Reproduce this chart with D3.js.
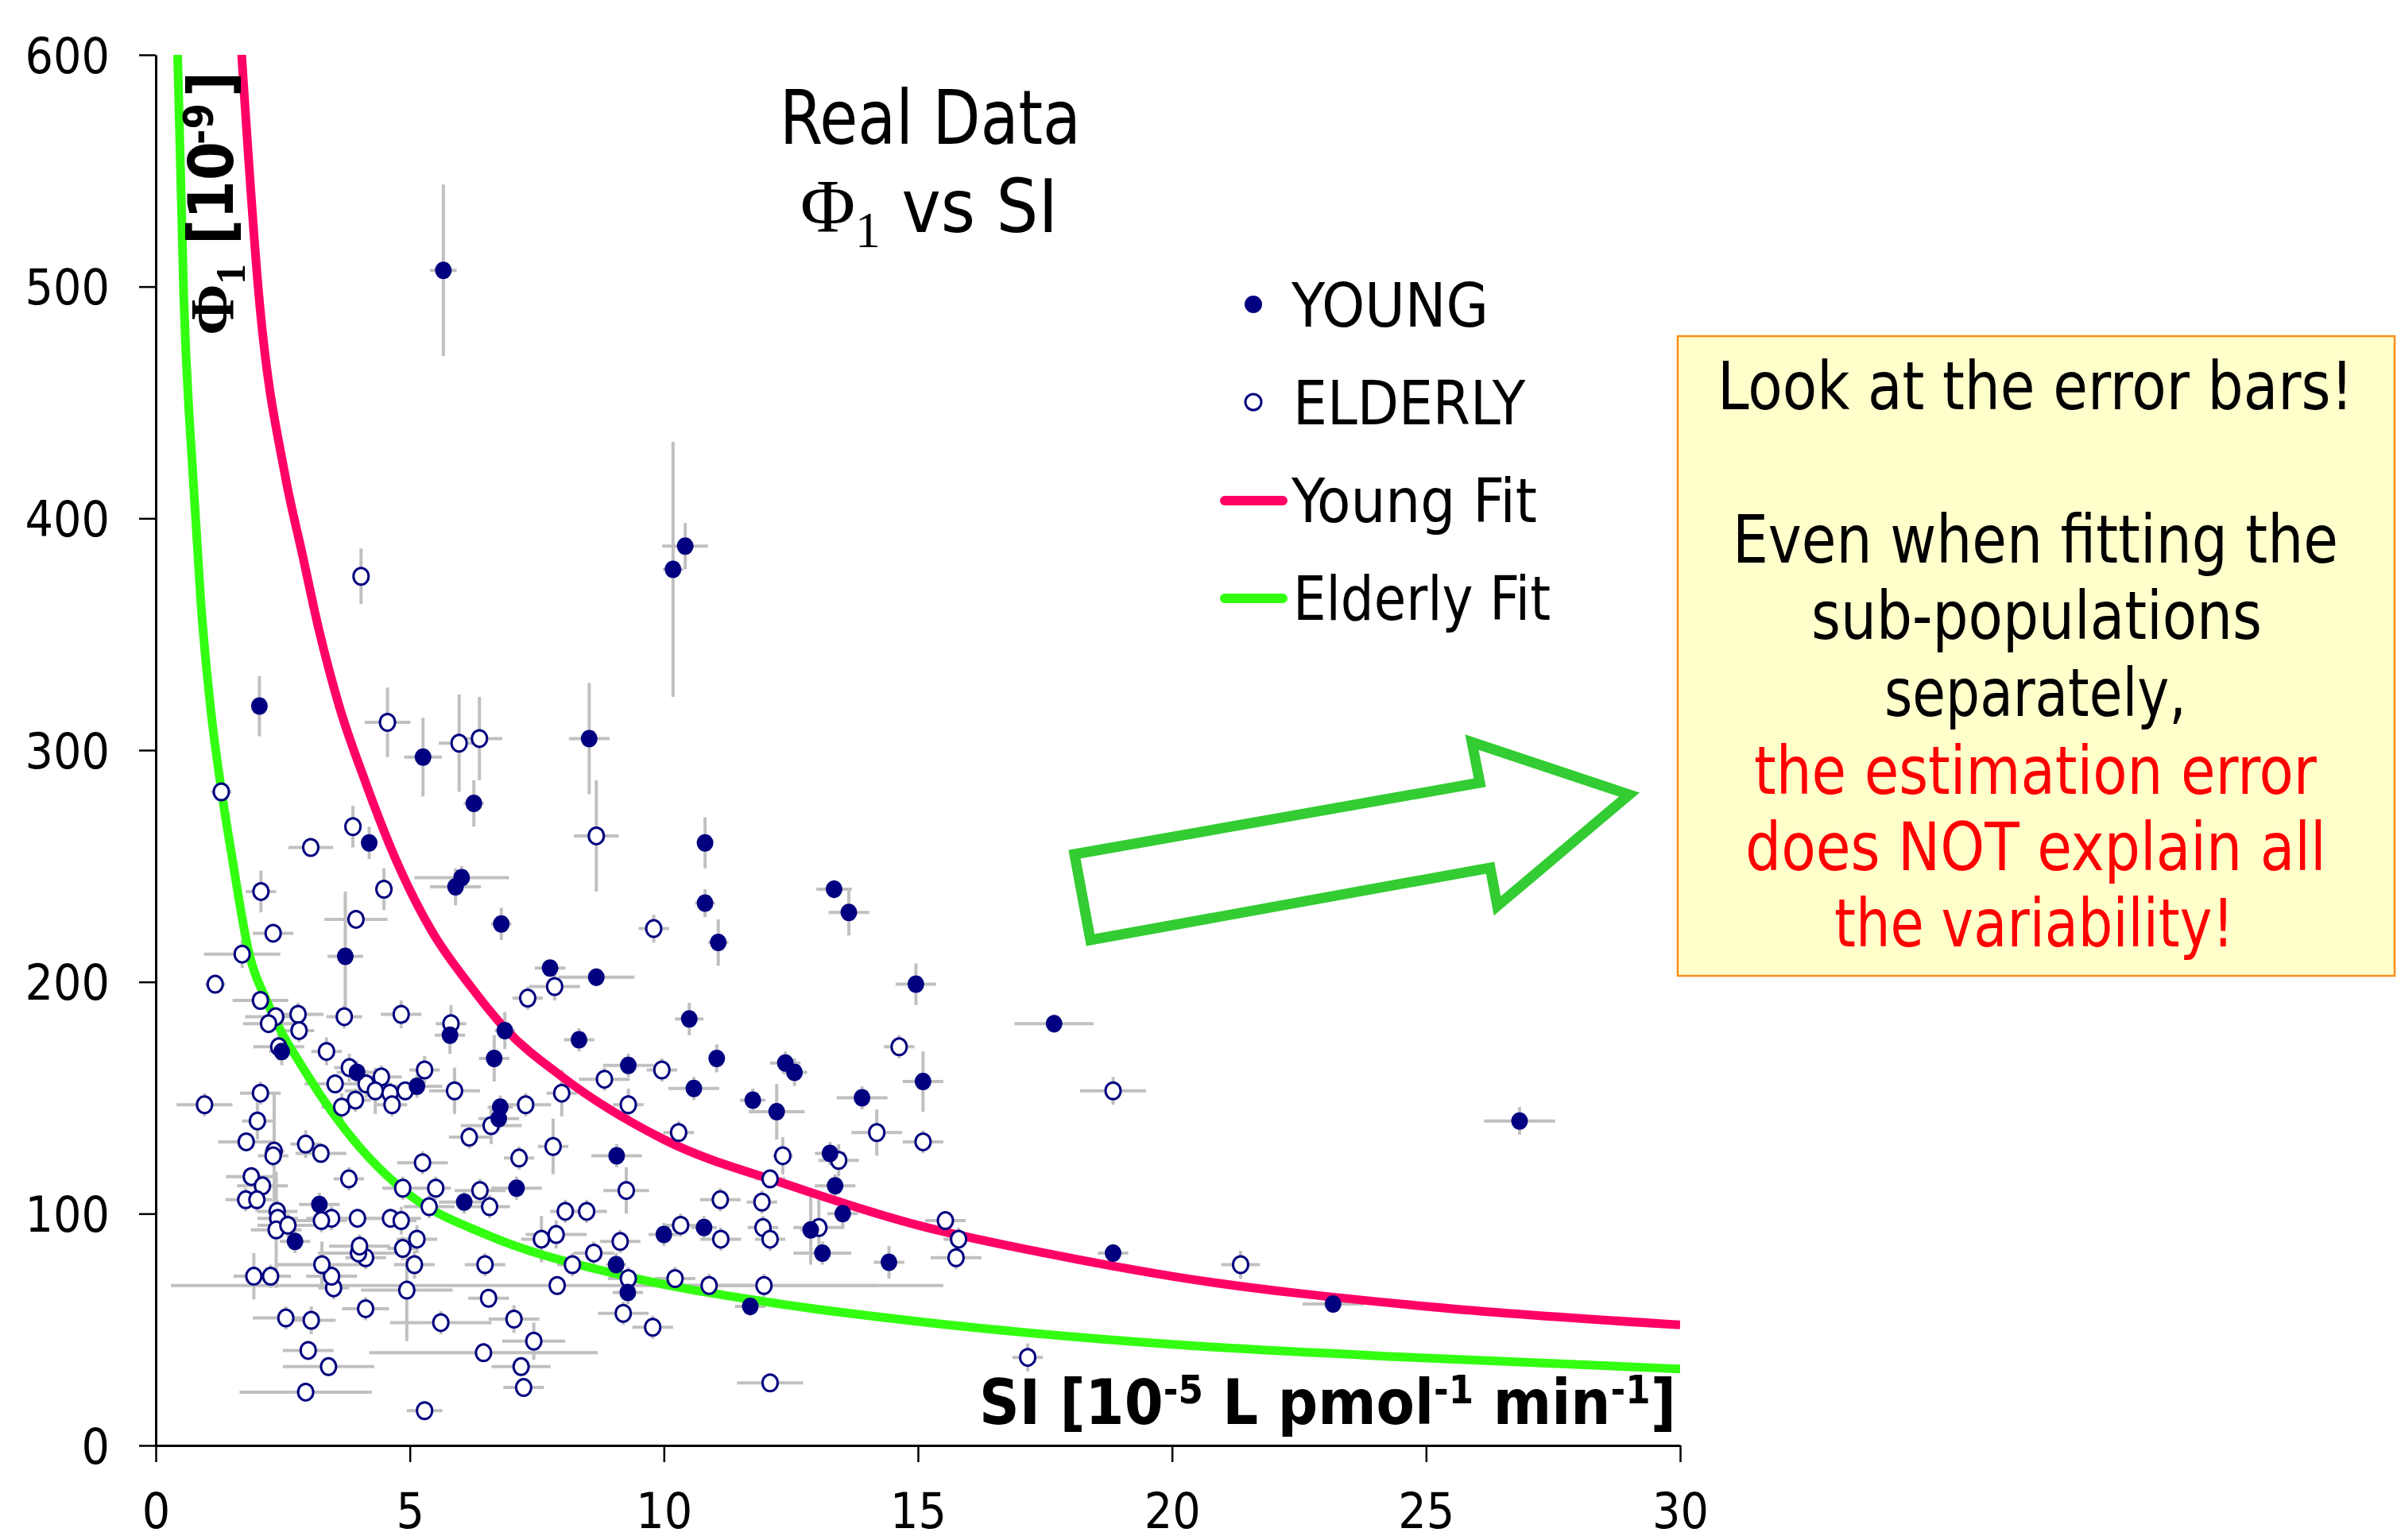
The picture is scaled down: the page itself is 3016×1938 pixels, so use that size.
<!DOCTYPE html>
<html><head><meta charset="utf-8">
<script src="https://cdn.jsdelivr.net/npm/d3@7"></script>
<style>body{margin:0;background:#fff}svg{display:block}</style>
</head><body>
<svg id="c" width="3016" height="1938"></svg>
<script>
const xTicks=[0,5,10,15,20,25,30];
const yTicks=[0,100,200,300,400,500,600];
// [SI, Phi1, SI error (half), Phi1 error (half)]
const young=[
[5.66,507,0.26,37],[10.18,378,0.2,55],[10.42,388,0.45,10],[2.04,319,0.1,13],[5.26,297,0.37,17],
[8.53,305,0.4,24],[6.26,277,0.2,10],[4.2,260,0.15,7],[6.02,245,0.93,5],[5.9,241,0.5,8],
[6.8,225,0.2,7],[10.81,260,0.15,11],[10.81,234,0.2,6],[11.07,217,0.2,10],[13.35,240,0.35,4],
[13.64,230,0.4,10],[3.73,211,0.35,28],[7.76,206,0.3,3],[8.67,202,0.75,4],[14.96,199,0.4,9],
[10.5,184,0.28,7],[17.68,182,0.78,4],[8.33,175,0.3,5],[2.48,170,0.25,6],[6.66,167,0.3,10],
[11.04,167,0.15,6],[9.3,164,0.5,5],[12.39,165,0.3,5],[12.57,161,0.25,6],[15.1,157,0.4,13],
[10.59,154,0.5,5],[5.14,155,0.5,5],[3.96,161,0.4,5],[5.79,177,0.3,8],[13.9,150,0.5,5],
[11.75,149,0.25,5],[6.78,146,0.25,5],[6.75,141,0.4,5],[12.22,144,0.55,12],[26.84,140,0.7,6],
[6.87,179,0.2,8],[9.07,125,0.5,5],[13.27,126,0.3,5],[13.37,112,0.4,5],[7.1,111,0.5,5],
[13.52,100,0.3,6],[12.89,93,0.2,15],[10.79,94,0.25,5],[10.0,91,0.3,5],[3.22,104,0.4,5],
[6.07,105,0.5,5],[2.74,88,0.3,5],[14.43,79,0.3,7],[13.12,83,0.57,5],[18.84,83,0.3,4],
[9.06,78,0.2,5],[9.29,66,0.3,5],[11.7,60,0.3,4],[23.17,61,0.6,3]
];
const elderly=[
[4.04,375,0.15,12],[4.56,312,0.45,15],[5.97,303,0.4,21],[6.37,305,0.45,18],[8.67,263,0.44,24],
[1.29,282,0.2,5],[3.88,267,0.1,9],[3.05,258,0.44,4],[4.49,240,0.1,9],[2.07,239,0.3,9],
[3.94,227,0.62,4],[2.31,221,0.4,3],[1.7,212,0.75,6],[1.17,199,0.2,4],[2.06,192,0.55,3],
[7.85,198,0.5,6],[7.32,193,0.3,5],[5.81,182,0.3,8],[4.83,186,0.4,6],[3.71,185,0.35,5],
[2.8,186,0.5,5],[2.36,185,0.6,4],[2.22,182,0.5,4],[2.82,179,0.3,5],[9.8,223,0.3,6],
[2.42,172,0.5,6],[3.36,170,0.3,6],[3.81,163,0.3,6],[3.53,156,0.6,4],[3.93,149,0.3,5],
[3.66,146,0.4,6],[4.14,156,0.5,6],[4.44,159,0.4,5],[4.32,153,0.6,10],[4.61,152,0.5,4],
[4.65,147,0.3,5],[4.91,153,0.3,4],[5.29,162,0.3,6],[5.88,153,0.5,10],[6.6,138,0.6,8],
[7.28,147,0.5,5],[7.99,152,0.3,10],[8.83,158,0.5,5],[9.3,147,0.3,7],[0.96,147,0.55,5],
[2.06,152,0.4,5],[2.0,140,0.3,8],[1.78,131,0.55,4],[2.33,127,0.2,25],[2.31,125,0.3,5],
[2.95,130,0.3,6],[3.25,126,0.5,4],[6.17,133,0.4,5],[7.82,129,0.3,12],[1.88,116,0.5,4],
[2.1,112,0.5,4],[3.8,115,0.3,5],[4.86,111,0.4,5],[5.38,103,0.5,5],[5.51,111,0.3,5],
[6.57,103,0.4,5],[6.38,110,0.5,5],[5.25,122,0.5,5],[7.15,124,0.3,5],[8.06,101,0.3,5],
[8.48,101,0.4,5],[9.26,110,0.45,10],[1.77,106,0.4,5],[1.99,106,0.3,5],[2.39,101,0.4,5],
[2.4,98,0.4,5],[2.37,93,0.5,25],[2.6,95,0.6,5],[3.46,98,0.5,5],[3.26,97,0.5,5],
[3.97,98,0.5,4],[4.62,98,0.6,4],[4.83,97,0.3,6],[3.5,68,0.3,5],[3.46,73,0.5,5],
[3.27,78,0.9,10],[4.13,81,0.4,5],[3.99,83,0.8,5],[4.01,86,0.6,5],[4.86,85,0.3,5],
[5.14,89,0.4,6],[5.09,78,0.4,6],[6.48,78,0.4,5],[7.9,69,7.6,4],[7.59,89,0.4,10],
[7.88,91,0.6,6],[8.2,78,0.3,5],[8.62,83,0.4,5],[9.14,88,0.4,5],[9.2,57,0.5,5],
[9.3,72,0.4,5],[1.93,73,0.4,10],[2.26,73,0.4,5],[4.13,59,0.46,5],[4.94,67,0.9,22],
[3.06,54,0.48,6],[2.56,55,0.65,5],[5.61,53,1.0,5],[7.05,54.5,0.5,6],[6.55,63.5,0.4,4],
[3.0,41,0.5,4],[3.4,34,0.9,4],[2.95,23,1.3,3],[6.45,40,2.25,4],[7.44,45,0.62,8],
[7.19,34,0.58,4],[7.24,25,0.4,3],[5.29,15,0.35,2],[9.96,162,0.3,5],[14.63,172,0.3,5],
[18.84,153,0.65,6],[10.29,135,0.3,5],[14.19,135,0.5,10],[15.1,131,0.4,5],[12.34,125,0.2,8],
[13.44,123,0.4,7],[12.09,115,0.3,4],[11.11,106,0.4,5],[11.93,105,0.3,5],[10.33,95,0.3,5],
[11.12,89,0.4,5],[11.95,94,0.3,5],[12.09,89,0.3,5],[13.05,94,0.5,12],[15.54,97,0.4,4],
[15.8,89,0.3,5],[15.75,81,0.5,5],[10.22,72,0.4,5],[10.89,69,0.9,5],[11.97,69,2.2,5],
[9.78,51,0.4,5],[17.16,38,0.3,6],[12.09,27,0.65,2],[21.35,78,0.38,6]
];
// fitted curves: [SI, Phi1]
const youngFit=[[1.69,600],[2.03,496],[2.55,418],[2.88,385],[3.21,352],[3.61,319],[4.13,286],[4.7,254],
[5.43,222],[6.2,198],[6.87,180],[8.0,159],[10,132],[12.5,112],[15,95],[17.5,83],[20,73],[25,60],[30,52]];
const elderlyFit=[[0.43,600],[0.55,496],[0.73,419],[0.89,363],[1.08,318],[1.29,283],[1.5,254],[1.83,213],
[2.2,191],[2.98,160],[4,129],[5,108],[6.5,91],[9.06,74],[12,62],[15,53.5],[20,43.6],[25,37.7],[30,33]];
const legendLabels=["YOUNG","ELDERLY","Young Fit","Elderly Fit"];
const noteBlack=["Look at the error bars!","","Even when fitting the","sub-populations","separately,"];
const noteRed=["the estimation error","does NOT explain all","the variability!"];

const F="'DejaVu Sans Condensed','DejaVu Sans',sans-serif";
const SERIF="'Liberation Serif','DejaVu Serif',serif";
const NAVY="#000080", PINK="#FF0066", LIME="#33FF11", GRAY="#C0C0C0";
const svg=d3.select("#c");
svg.append("rect").attr("width",3016).attr("height",1938).attr("fill","#fff");

const x=d3.scaleLinear().domain([0,30]).range([196,2114]);
const y=d3.scaleLinear().domain([0,600]).range([1819,69]);

function fit(t,left,right){
  const b=t.node().getBBox();
  const s=(right-left)/b.width;
  t.attr("transform",`translate(${left},0) scale(${s},1) translate(${-b.x},0)`);
}

svg.append("clipPath").attr("id","plot").append("rect").attr("x",196).attr("y",69).attr("width",1918).attr("height",1750);

// error bars
const eb=svg.append("g").attr("stroke",GRAY).attr("stroke-width",4);
[...elderly,...young].forEach(d=>{
  eb.append("line").attr("x1",x(d[0]-d[2])).attr("x2",x(d[0]+d[2])).attr("y1",y(d[1])).attr("y2",y(d[1]));
  eb.append("line").attr("x1",x(d[0])).attr("x2",x(d[0])).attr("y1",y(d[1]-d[3])).attr("y2",y(d[1]+d[3]));
});

// fit curves
const line=d3.line().x(d=>x(d[0])).y(d=>y(d[1])).curve(d3.curveMonotoneX);
const cg=svg.append("g").attr("clip-path","url(#plot)").attr("fill","none").attr("stroke-width",11);
cg.append("path").datum(elderlyFit).attr("d",line).attr("stroke",LIME);
cg.append("path").datum(youngFit).attr("d",line).attr("stroke",PINK);

// markers
svg.append("g").selectAll("ellipse").data(elderly).join("ellipse")
  .attr("cx",d=>x(d[0])).attr("cy",d=>y(d[1])).attr("rx",9.5).attr("ry",10.5)
  .attr("fill","#fff").attr("stroke",NAVY).attr("stroke-width",3);
svg.append("g").selectAll("ellipse").data(young).join("ellipse")
  .attr("cx",d=>x(d[0])).attr("cy",d=>y(d[1])).attr("rx",10.5).attr("ry",11).attr("fill",NAVY);

// axes
const ya=svg.append("g").attr("transform","translate(196,0)")
  .call(d3.axisLeft(y).tickValues(yTicks).tickSize(21).tickSizeOuter(0).tickFormat(d3.format("d")));
ya.select(".domain").attr("stroke","#000").attr("stroke-width",3);
ya.selectAll(".tick line").attr("stroke","#000").attr("stroke-width",2.5);
ya.selectAll(".tick text").attr("x",-58).attr("dy","0.36em").attr("font-family",F).attr("font-size",62).attr("fill","#000");
const xa=svg.append("g").attr("transform","translate(0,1819)")
  .call(d3.axisBottom(x).tickValues(xTicks).tickSize(21).tickSizeOuter(0).tickFormat(d3.format("d")));
xa.select(".domain").attr("stroke","#000").attr("stroke-width",3);
xa.selectAll(".tick line").attr("stroke","#000").attr("stroke-width",2.5);
xa.selectAll(".tick text").attr("y",104).attr("dy",0).attr("font-family",F).attr("font-size",62).attr("fill","#000");

// y axis title (rotated)
const yl=svg.append("text").attr("transform","translate(293,422) rotate(-90)")
  .attr("font-family",F).attr("font-weight","bold").attr("font-size",78).attr("fill","#000");
yl.append("tspan").attr("x",0).attr("y",0).attr("font-family",SERIF).text("Φ");
yl.append("tspan").attr("x",64).attr("y",15).attr("font-family",SERIF).attr("font-size",52).text("1");
yl.append("tspan").attr("x",114).attr("y",0).text("[10");
yl.append("tspan").attr("x",240).attr("y",-25).attr("font-size",52).text("-9");
yl.append("tspan").attr("x",300).attr("y",0).text("]");

// x axis title
const xl=svg.append("text").attr("x",1232).attr("y",1792).attr("font-family",F).attr("font-weight","bold").attr("font-size",78).attr("fill","#000");
xl.append("tspan").text("SI [10");
xl.append("tspan").attr("font-size",50).attr("dy",-26).text("-5");
xl.append("tspan").attr("dy",26).text(" L pmol");
xl.append("tspan").attr("font-size",50).attr("dy",-26).text("-1");
xl.append("tspan").attr("dy",26).text(" min");
xl.append("tspan").attr("font-size",50).attr("dy",-26).text("-1");
xl.append("tspan").attr("dy",26).text("]");
fit(xl,1232,2109);

// title
const t1=svg.append("text").attr("x",981).attr("y",181).attr("font-family",F).attr("font-size",95).attr("fill","#000").text("Real Data");
fit(t1,981,1360);
const t2=svg.append("text").attr("x",1007).attr("y",292).attr("font-family",F).attr("font-size",93).attr("fill","#000");
t2.append("tspan").attr("font-family",SERIF).attr("font-size",95).text("Φ");
t2.append("tspan").attr("font-family",SERIF).attr("font-size",64).attr("dy",19).text("1");
t2.append("tspan").attr("dy",-19).text(" vs SI");
fit(t2,1007,1331);

// legend
const lg=svg.append("g");
const legY=[411,534,657,780], legR=[1873,1920,1934,1951], legL=[1624,1627,1624,1627];
legendLabels.forEach((s,i)=>{
  const t=lg.append("text").attr("x",legL[i]).attr("y",legY[i]).attr("font-family",F).attr("font-size",77).attr("fill","#000").text(s);
  fit(t,legL[i],legR[i]);
});
lg.append("circle").attr("cx",1577).attr("cy",383).attr("r",11).attr("fill",NAVY);
lg.append("circle").attr("cx",1577).attr("cy",506).attr("r",10).attr("fill","#fff").attr("stroke",NAVY).attr("stroke-width",3);
lg.append("line").attr("x1",1541).attr("x2",1614).attr("y1",630).attr("y2",630).attr("stroke",PINK).attr("stroke-width",12).attr("stroke-linecap","round");
lg.append("line").attr("x1",1541).attr("x2",1614).attr("y1",753).attr("y2",753).attr("stroke",LIME).attr("stroke-width",12).attr("stroke-linecap","round");

// arrow annotation
svg.append("path").attr("d","M1352,1075 L1862,985 L1852,934 L2050,1000 L1884,1140 L1875,1092 L1372,1183 Z")
  .attr("fill","none").attr("stroke","#33CC33").attr("stroke-width",13).attr("stroke-linejoin","miter");

// note box
svg.append("rect").attr("x",2111).attr("y",423).attr("width",902).attr("height",805)
  .attr("fill","#FFFFCC").attr("stroke","#FF8C1A").attr("stroke-width",2.5);
const noteY=[515,0,708,804,901], noteW=[[2161,2961],null,[2180,2942],[2279,2846],[2371,2751]];
noteBlack.forEach((s,i)=>{
  if(!s) return;
  const t=svg.append("text").attr("x",noteW[i][0]).attr("y",noteY[i]).attr("font-family",F).attr("font-size",84).attr("fill","#000").text(s);
  fit(t,noteW[i][0],noteW[i][1]);
});
const redY=[999,1095,1191], redW=[[2207,2916],[2196,2927],[2308,2811]];
noteRed.forEach((s,i)=>{
  const t=svg.append("text").attr("x",redW[i][0]).attr("y",redY[i]).attr("font-family",F).attr("font-size",84).attr("fill","#FF0000").text(s);
  fit(t,redW[i][0],redW[i][1]);
});
</script>
</body></html>
